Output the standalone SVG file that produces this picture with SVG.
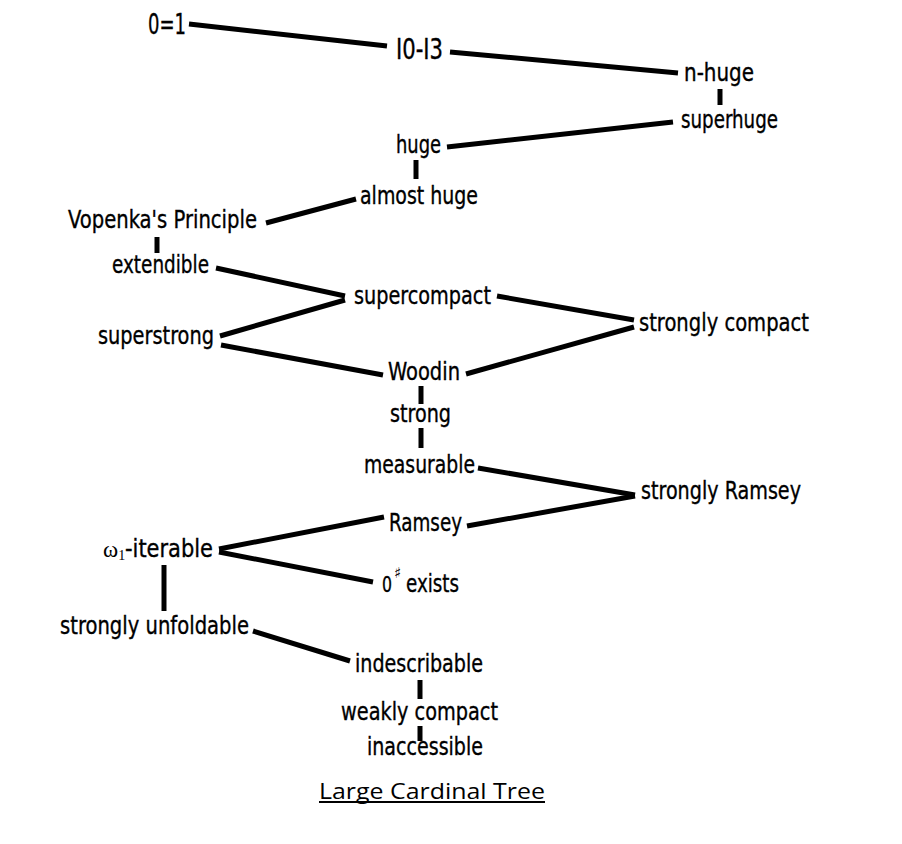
<svg xmlns="http://www.w3.org/2000/svg" width="902" height="844" viewBox="0 0 902 844">
<style>
  .lbl { font-family: "DejaVu Sans Condensed", "DejaVu Sans", "Liberation Sans Narrow", sans-serif; font-size: 25px; fill: #000; stroke: #000; stroke-width: 0.35px; }
  .big { font-size: 29px; }
  .greek { font-family: "Liberation Serif", "DejaVu Serif", serif; font-size: 23px; fill: #000; }
  .title { font-family: "Open Sans", "Liberation Sans", sans-serif; font-size: 21px; fill: #000; }
  .edge { stroke: #000; stroke-width: 5; fill: none; }
</style>
<rect width="902" height="844" fill="#fff"/>
<g id="connectors">
  <line class="edge" x1="189" y1="24" x2="387" y2="46"/>
  <line class="edge" x1="450" y1="52" x2="678" y2="73"/>
  <line class="edge" x1="720" y1="89" x2="720" y2="105"/>
  <line class="edge" x1="673" y1="122" x2="447" y2="147"/>
  <line class="edge" x1="416" y1="160" x2="416" y2="179"/>
  <line class="edge" x1="356" y1="199" x2="266" y2="223"/>
  <line class="edge" x1="157" y1="237" x2="157" y2="253"/>
  <line class="edge" x1="216" y1="268" x2="345" y2="296"/>
  <line class="edge" x1="220" y1="336" x2="345" y2="300"/>
  <line class="edge" x1="497" y1="296" x2="634" y2="320"/>
  <line class="edge" x1="221" y1="345" x2="383" y2="375"/>
  <line class="edge" x1="466" y1="374" x2="634" y2="327"/>
  <line class="edge" x1="421" y1="386" x2="421" y2="404"/>
  <line class="edge" x1="421" y1="428" x2="421" y2="448"/>
  <line class="edge" x1="478" y1="468" x2="635" y2="495"/>
  <line class="edge" x1="467" y1="526" x2="635" y2="496"/>
  <line class="edge" x1="384" y1="517" x2="219" y2="549"/>
  <line class="edge" x1="219" y1="552" x2="373" y2="582"/>
  <line class="edge" x1="164" y1="565" x2="164" y2="611"/>
  <line class="edge" x1="253" y1="631" x2="350" y2="661"/>
  <line class="edge" x1="420" y1="680" x2="420" y2="699"/>
  <line class="edge" x1="420" y1="726" x2="420" y2="741"/>
</g>
<g id="n-0eq1"><text class="lbl big" x="148" y="34" textLength="38" lengthAdjust="spacingAndGlyphs">0=1</text></g>
<g id="n-i0i3"><text class="lbl big" x="396" y="59" textLength="47" lengthAdjust="spacingAndGlyphs">I0-I3</text></g>
<g id="n-nhuge"><text class="lbl" x="684" y="81" textLength="70" lengthAdjust="spacingAndGlyphs">n-huge</text></g>
<g id="n-superhuge"><text class="lbl" x="681" y="128" textLength="97" lengthAdjust="spacingAndGlyphs">superhuge</text></g>
<g id="n-huge"><text class="lbl" x="396" y="153" textLength="45" lengthAdjust="spacingAndGlyphs">huge</text></g>
<g id="n-almosthuge"><text class="lbl" x="360" y="204" textLength="118" lengthAdjust="spacingAndGlyphs">almost huge</text></g>
<g id="n-vopenka"><text class="lbl" x="68" y="228" textLength="189" lengthAdjust="spacingAndGlyphs">Vopenka's Principle</text></g>
<g id="n-extendible"><text class="lbl" x="112" y="273" textLength="97" lengthAdjust="spacingAndGlyphs">extendible</text></g>
<g id="n-supercompact"><text class="lbl" x="354" y="304" textLength="137" lengthAdjust="spacingAndGlyphs">supercompact</text></g>
<g id="n-stronglycompact"><text class="lbl" x="639" y="331" textLength="170" lengthAdjust="spacingAndGlyphs">strongly compact</text></g>
<g id="n-superstrong"><text class="lbl" x="98" y="344" textLength="116" lengthAdjust="spacingAndGlyphs">superstrong</text></g>
<g id="n-woodin"><text class="lbl" x="388" y="380" textLength="72" lengthAdjust="spacingAndGlyphs">Woodin</text></g>
<g id="n-strong"><text class="lbl" x="390" y="422" textLength="61" lengthAdjust="spacingAndGlyphs">strong</text></g>
<g id="n-measurable"><text class="lbl" x="364" y="473" textLength="111" lengthAdjust="spacingAndGlyphs">measurable</text></g>
<g id="n-stronglyramsey"><text class="lbl" x="641" y="499" textLength="160" lengthAdjust="spacingAndGlyphs">strongly Ramsey</text></g>
<g id="n-ramsey"><text class="lbl" x="389" y="531" textLength="73" lengthAdjust="spacingAndGlyphs">Ramsey</text></g>
<g id="n-omega1iterable">
  <text class="greek" x="103" y="557">ω<tspan font-size="14" dy="3">1</tspan></text>
  <text class="lbl" x="125" y="557" textLength="88" lengthAdjust="spacingAndGlyphs">-iterable</text>
</g>
<g id="n-zerosharp">
  <text class="lbl" y="592"><tspan x="382" font-size="22" textLength="10" lengthAdjust="spacingAndGlyphs">0</tspan><tspan x="394" dy="-14" font-family="DejaVu Sans, sans-serif" font-size="15" stroke-width="0">♯</tspan><tspan x="406" dy="14" textLength="53" lengthAdjust="spacingAndGlyphs">exists</tspan></text>
</g>
<g id="n-stronglyunfoldable"><text class="lbl" x="60" y="634" textLength="189" lengthAdjust="spacingAndGlyphs">strongly unfoldable</text></g>
<g id="n-indescribable"><text class="lbl" x="355" y="672" textLength="128" lengthAdjust="spacingAndGlyphs">indescribable</text></g>
<g id="n-weaklycompact"><text class="lbl" x="341" y="720" textLength="157" lengthAdjust="spacingAndGlyphs">weakly compact</text></g>
<g id="n-inaccessible"><text class="lbl" x="367" y="755" textLength="116" lengthAdjust="spacingAndGlyphs">inaccessible</text></g>
<g id="title">
  <text class="title" x="319" y="799" textLength="226" lengthAdjust="spacingAndGlyphs">Large Cardinal Tree</text>
  <line x1="319" y1="802" x2="545" y2="802" stroke="#000" stroke-width="1.8"/>
</g>
</svg>
